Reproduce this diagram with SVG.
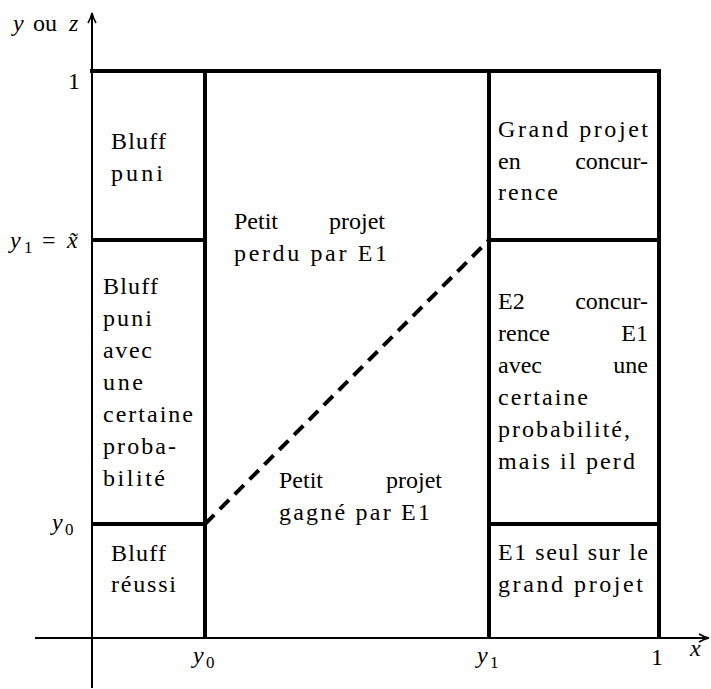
<svg xmlns="http://www.w3.org/2000/svg" width="711" height="689" viewBox="0 0 711 689">
<defs>
<style>
text{font-family:"Liberation Serif",Tinos,"Times New Roman","Noto Serif","DejaVu Serif",FreeSerif,"Nimbus Roman",Times,serif;fill:#000}
.t{font-size:24px}
.m{font-size:24px;font-style:italic}
.r{font-size:24px}
.s{font-size:17px}
.e{text-anchor:end}
.c{text-anchor:middle}
.thick{stroke:#000;stroke-width:4;fill:none;stroke-linecap:square}
.axis{stroke:#000;stroke-width:2;fill:none}
.dash{stroke:#000;stroke-width:4;fill:none;stroke-dasharray:13 8}
</style>
<marker id="arr" viewBox="0 0 12 10" refX="11" refY="5" markerWidth="12" markerHeight="10" markerUnits="userSpaceOnUse" orient="auto">
<path d="M1,1 Q6,4 11,5 Q6,6 1,9" fill="none" stroke="#000" stroke-width="1.6"/>
</marker>
</defs>
<rect width="711" height="689" fill="#fff"/>

<g id="connectors">
<line class="axis" x1="92" y1="688" x2="92" y2="13" marker-end="url(#arr)"/>
<line class="axis" x1="35" y1="638" x2="709" y2="638" marker-end="url(#arr)"/>
<line class="thick" x1="92" y1="71" x2="659" y2="71"/>
<line class="thick" x1="205" y1="71" x2="205" y2="637"/>
<line class="thick" x1="489" y1="71" x2="489" y2="637"/>
<line class="thick" x1="659" y1="71" x2="659" y2="637"/>
<line class="thick" x1="93" y1="240" x2="205" y2="240"/>
<line class="thick" x1="489" y1="240" x2="659" y2="240"/>
<line class="thick" x1="93" y1="524" x2="205" y2="524"/>
<line class="thick" x1="489" y1="524" x2="659" y2="524"/>
<line class="dash" x1="205" y1="524" x2="489" y2="240"/>
</g>

<g id="axis-labels">
<text class="m" x="13" y="31">y</text>
<text class="r" x="33" y="31">ou</text>
<text class="m" x="69" y="31">z</text>
<text class="r" x="68" y="89">1</text>
<text class="m" x="10" y="248">y</text>
<text class="s" x="24" y="253">1</text>
<text class="r" x="42" y="248">=</text>
<text class="m" x="67" y="248">x&#x303;</text>
<text class="m" x="52" y="530">y</text>
<text class="s" x="65" y="535">0</text>
<text class="m" x="193" y="663">y</text>
<text class="s" x="206" y="668">0</text>
<text class="m" x="477" y="663">y</text>
<text class="s" x="490" y="668">1</text>
<text class="r" x="651" y="665">1</text>
<text class="m" x="690" y="656">x</text>
</g>

<g id="bluff-puni">
<text class="t" x="111" y="149" textLength="55">Bluff</text>
<text class="t" x="111" y="181" textLength="52">puni</text>
</g>

<g id="bluff-puni-proba">
<text class="t" x="103" y="294" textLength="55">Bluff</text>
<text class="t" x="103" y="326" textLength="49">puni</text>
<text class="t" x="103" y="358" textLength="49">avec</text>
<text class="t" x="103" y="390" textLength="40">une</text>
<text class="t" x="103" y="422" textLength="90">certaine</text>
<text class="t" x="103" y="454" textLength="73">proba-</text>
<text class="t" x="103" y="486" textLength="62">bilité</text>
</g>

<g id="bluff-reussi">
<text class="t" x="111" y="561" textLength="55">Bluff</text>
<text class="t" x="111" y="592" textLength="65">réussi</text>
</g>

<g id="petit-perdu">
<text class="t" x="234" y="229">Petit</text>
<text class="t e" x="385" y="229">projet</text>
<text class="t" x="234" y="261" textLength="153">perdu par E1</text>
</g>

<g id="petit-gagne">
<text class="t" x="279" y="488">Petit</text>
<text class="t e" x="442" y="488">projet</text>
<text class="t" x="279" y="520" textLength="151">gagné par E1</text>
</g>

<g id="grand-concurrence">
<text class="t" x="498" y="137" textLength="150">Grand projet</text>
<text class="t" x="498" y="169">en</text>
<text class="t e" x="648" y="169">concur-</text>
<text class="t" x="498" y="200" textLength="60">rence</text>
</g>

<g id="e2-concurrence">
<text class="t" x="498" y="309">E2</text>
<text class="t e" x="648" y="309">concur-</text>
<text class="t" x="498" y="341">rence</text>
<text class="t e" x="648" y="341">E1</text>
<text class="t" x="498" y="373">avec</text>
<text class="t e" x="648" y="373">une</text>
<text class="t" x="498" y="405" textLength="90">certaine</text>
<text class="t" x="498" y="437" textLength="132">probabilité,</text>
<text class="t" x="498" y="469" textLength="137">mais il perd</text>
</g>

<g id="e1-seul">
<text class="t" x="498" y="560" textLength="150">E1 seul sur le</text>
<text class="t" x="498" y="592" textLength="145">grand projet</text>
</g>
</svg>
